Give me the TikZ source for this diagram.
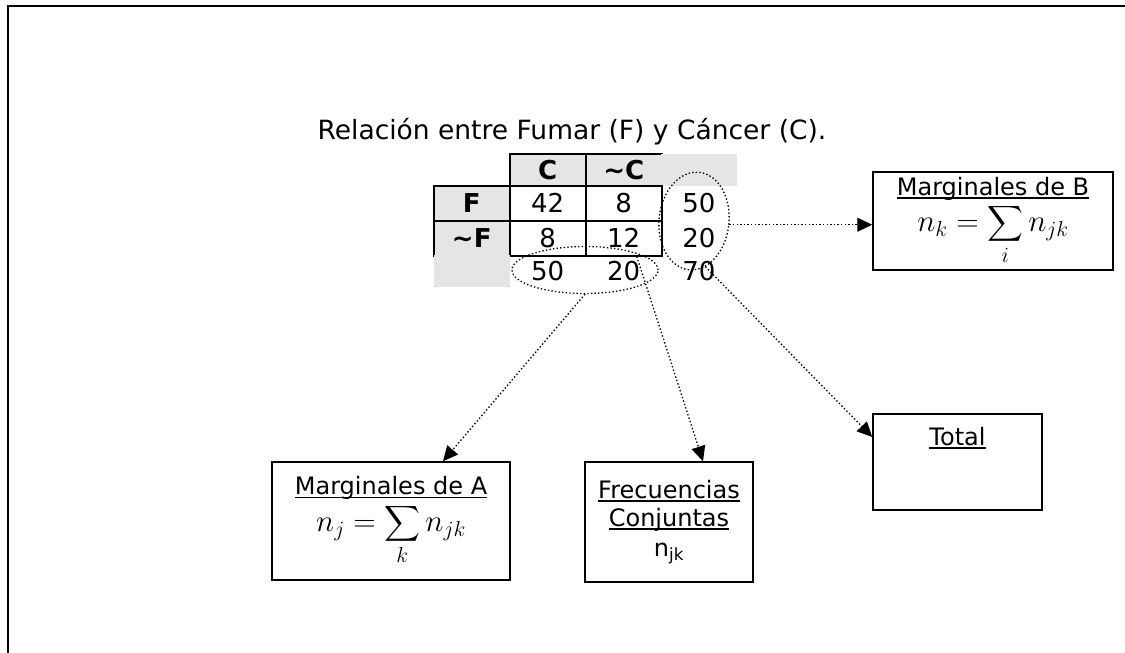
\RequirePackage{fix-cm}
\documentclass[tikz,border=0pt]{standalone}
\usepackage{fontspec}
\setmainfont{DejaVu Sans}
\usepackage{amsmath}
\usetikzlibrary{positioning,matrix,arrows.meta,shapes.geometric}
\newcommand{\ulin}[1]{\setbox0\hbox{#1}\rlap{\rule[-3.5pt]{\wd0}{1.5pt}}\box0}

\begin{document}
\begin{tikzpicture}[x=1pt,y=-1pt,
  every node/.style={font=\fontsize{24}{28}\selectfont},
  tab_cell/.style={draw,line width=1.5pt,minimum width=76pt,minimum height=35pt,inner sep=0pt,anchor=center,
    font=\fontsize{26}{30}\selectfont},
  head_cell/.style={fill=gray!20,font=\fontsize{26}{30}\selectfont\bfseries},
  plain_cell/.style={draw=none},
  pad_cell/.style={draw=none,fill=gray!20},
  info_box/.style={draw,line width=1.5pt,align=center,inner sep=0pt},
  mark_ell/.style={draw,ellipse,line width=1.3pt,dash pattern=on 1.4pt off 2.2pt,inner sep=0pt},
  link/.style={line width=1.3pt,dash pattern=on 1.4pt off 2.2pt,-{Triangle[length=15pt,width=14pt]}}
  ]
  \useasboundingbox (0,0) rectangle (1125,653);
  \draw[line width=2pt] (8,653) -- (8,6) -- (1125,6);

  \node[font=\fontsize{26.5}{30}\selectfont] (Title) at (572,132) {Relación entre Fumar (F) y Cáncer (C).};

  \matrix (Tab) at (585,220) [matrix of nodes,ampersand replacement=\&,
    nodes={tab_cell},column sep=-1.5pt,row sep=-1.5pt,
    row 1/.style={nodes={minimum height=32pt}},
    row 4/.style={nodes={minimum height=32pt}}] {
    \& |[head_cell]| C \& |[head_cell]| \textasciitilde C \& |[pad_cell]| {} \\
    |[head_cell]| F \& 42 \& 8 \& |[plain_cell]| 50 \\
    |[head_cell]| \textasciitilde F \& 8 \& 12 \& |[plain_cell]| 20 \\
    |[pad_cell]| {} \& |[plain_cell]| 50 \& |[plain_cell]| 20 \& |[plain_cell]| 70 \\
  };

  \node[mark_ell,minimum width=70pt,minimum height=98pt,rotate=-6] (EllB) at (694,221) {};
  \node[mark_ell,minimum width=146pt,minimum height=47pt] (EllA) at (585,270) {};

  \node[info_box,minimum width=240pt,minimum height=98pt] (MargB) at (993,221)
    {\ulin{Marginales de B}\\[3pt] \fontsize{31}{34}\selectfont$\displaystyle n_k=\sum_i n_{jk}$};
  \node[info_box,minimum width=238pt,minimum height=118pt] (MargA) at (391,521)
    {\ulin{Marginales de A}\\[3pt] \fontsize{31}{34}\selectfont$\displaystyle n_j=\sum_k n_{jk}$};
  \node[info_box,minimum width=168pt,minimum height=120pt] (Freq) at (669,522)
    {\ulin{Frecuencias}\\\ulin{Conjuntas}\\[2pt]n\textsubscript{jk}};
  \node[info_box,minimum width=169pt,minimum height=96pt,
    label={[anchor=north,yshift=-10pt]north:\ulin{Total}}] (Total) at (957.5,462) {};

  \draw[link] (EllB.east) -- (EllB.east -| MargB.west);
  \draw[link] (EllA.south) -- ([xshift=52pt]MargA.north);
  \draw[link] ([xshift=13pt]Tab-3-3.south) -- ([xshift=34pt]Freq.north);
  \draw[link] (EllB.290) -- ([yshift=25pt]Total.west);
\end{tikzpicture}
\end{document}
